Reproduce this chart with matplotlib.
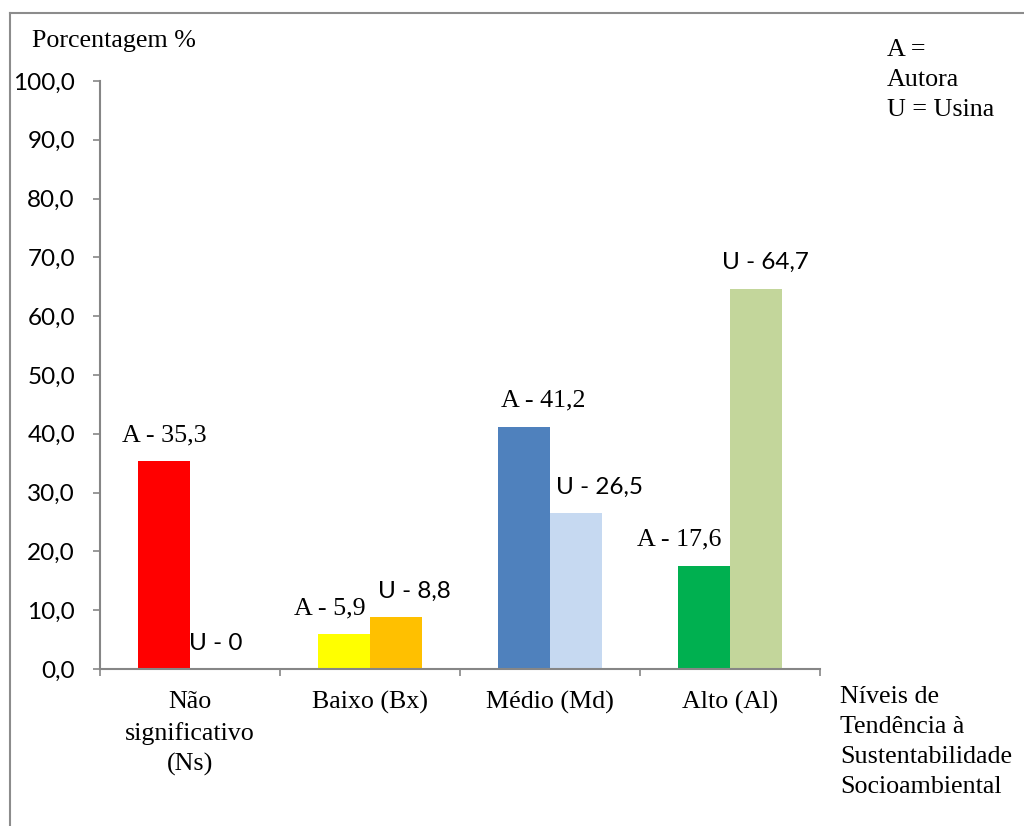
import matplotlib
matplotlib.use("Agg")
import matplotlib.pyplot as plt
from matplotlib.lines import Line2D
import numpy as np

categories = ["Não\nsignificativo\n(Ns)", "Baixo (Bx)", "Médio (Md)", "Alto (Al)"]
autora = [35.3, 5.9, 41.2, 17.6]
usina = [0.0, 8.8, 26.5, 64.7]
autora_labels = ["A - 35,3", "A - 5,9", "A - 41,2", "A - 17,6"]
usina_labels = ["U - 0", "U - 8,8", "U - 26,5", "U - 64,7"]
autora_colors = ["#FF0000", "#FFFF00", "#4F81BD", "#00B050"]
usina_colors = ["#FFFFFF", "#FFC000", "#C6D9F1", "#C3D69B"]
yticks = [0, 10, 20, 30, 40, 50, 60, 70, 80, 90, 100]
ytick_labels = ["0,0", "10,0", "20,0", "30,0", "40,0", "50,0", "60,0", "70,0", "80,0", "90,0", "100,0"]

SERIF = "Liberation Serif"
SANS = "Lato"
FS_SERIF = 18.7
FS_SANS = 17.5
LS = 1.47
W, H = 1024, 826
fig = plt.figure(figsize=(W / 100, H / 100), dpi=100)
fig.patch.set_facecolor("white")

# outer frame (top and left visible)
fig.add_artist(Line2D([10 / W, 10 / W], [0, 1 - 13 / H], color="#8c8c8c", lw=1.5, transform=fig.transFigure))
fig.add_artist(Line2D([10 / W, 1], [1 - 13 / H, 1 - 13 / H], color="#8c8c8c", lw=1.5, transform=fig.transFigure))

ax = fig.add_axes([100 / W, (H - 669) / H, 720 / W, (669 - 81) / H])
x = np.arange(len(categories))
bw = 52 / 180
ax.bar(x - bw, autora, width=bw, align="edge", color=autora_colors, edgecolor="none")
ax.bar(x, usina, width=bw, align="edge", color=usina_colors, edgecolor="none")

ax.set_xlim(-0.5, len(categories) - 0.5)
ax.set_ylim(0, 100)
for s in ["top", "right"]:
    ax.spines[s].set_visible(False)
for s in ["left", "bottom"]:
    ax.spines[s].set_color("#868686")
    ax.spines[s].set_linewidth(1.5)

ax.set_yticks(yticks)
ax.set_yticklabels(ytick_labels, fontfamily=SANS, fontsize=FS_SANS)
ax.tick_params(axis="y", length=5, width=1.2, color="#868686", pad=13)

ax.set_xticks(np.arange(-0.5, len(categories), 1.0))
ax.set_xticklabels([])
ax.set_xticks(x, minor=True)
ax.set_xticklabels(categories, minor=True, fontfamily=SERIF, fontsize=FS_SERIF, linespacing=LS)
ax.tick_params(axis="x", which="major", length=5, width=1.2, color="#868686")
ax.tick_params(axis="x", which="minor", length=0, pad=16)

a_dx = [0, -14, 19, -25]
u_dx = [0, 18, 24, 9]
for i in range(len(categories)):
    ax.annotate(autora_labels[i], (x[i] - bw / 2, autora[i]), xytext=(a_dx[i] * 0.72, 11),
                textcoords="offset points", ha="center", va="bottom",
                fontfamily=SERIF, fontsize=FS_SERIF)
    ax.annotate(usina_labels[i], (x[i] + bw / 2, usina[i]), xytext=(u_dx[i] * 0.72, 11),
                textcoords="offset points", ha="center", va="bottom",
                fontfamily=SANS, fontsize=FS_SANS)

fig.text(32 / W, 1 - 47 / H, "Porcentagem %", fontfamily=SERIF, fontsize=FS_SERIF, va="baseline", ha="left")
fig.text(887 / W, 1 - 39 / H, "A =\nAutora\nU = Usina", fontfamily=SERIF, fontsize=FS_SERIF,
         va="top", ha="left", linespacing=LS)
fig.text(840 / W, 1 - 686 / H, "Níveis de\nTendência à\nSustentabilidade\nSocioambiental",
         fontfamily=SERIF, fontsize=FS_SERIF, va="top", ha="left", linespacing=LS)

fig.savefig("out.png", dpi=100, facecolor="white")
